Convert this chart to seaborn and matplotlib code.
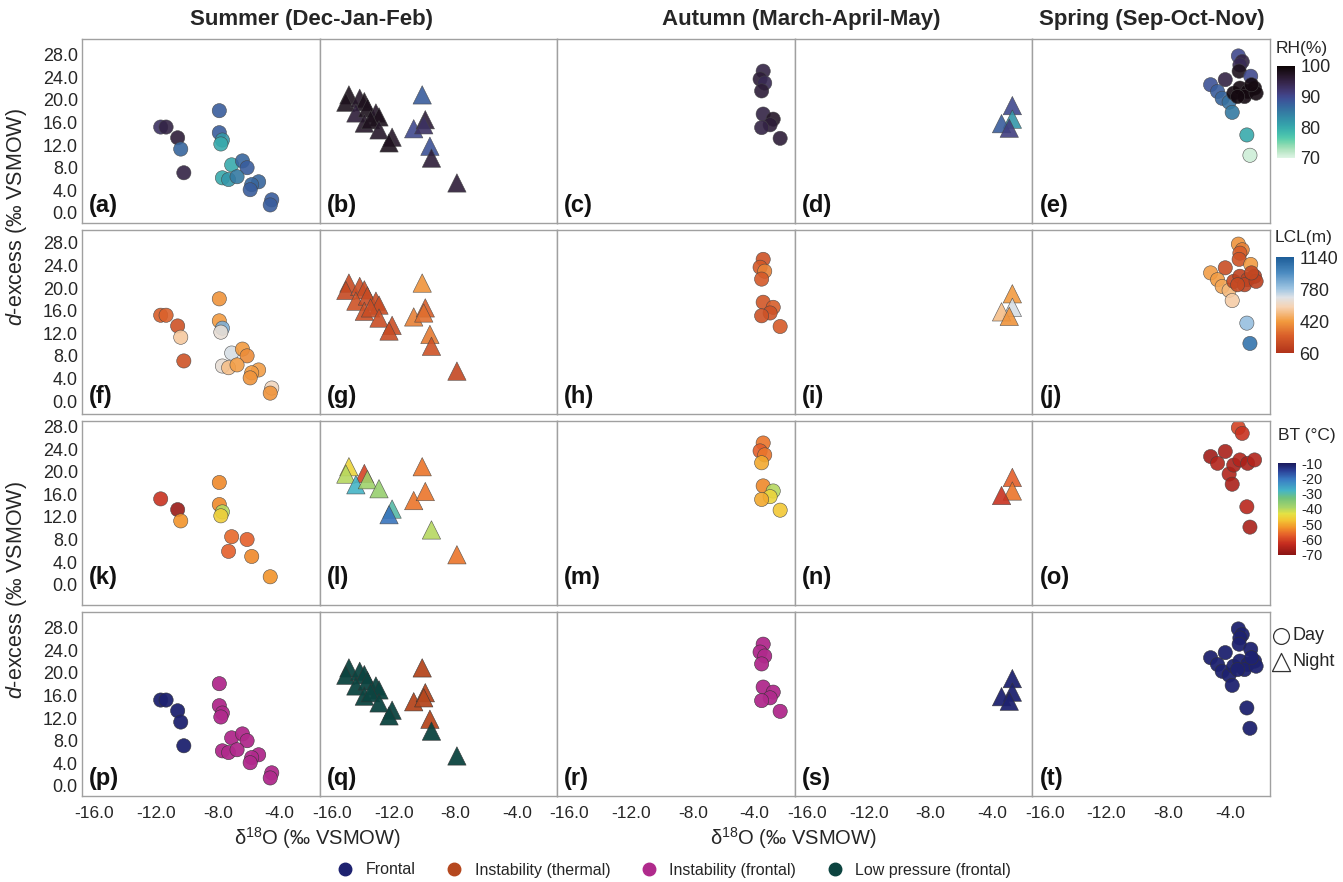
import numpy as np
import pandas as pd
import matplotlib
matplotlib.use("Agg")
import matplotlib.pyplot as plt
import seaborn as sns
from matplotlib.colors import LinearSegmentedColormap, Normalize
from matplotlib.lines import Line2D
import matplotlib.cm as cm

sns.set_theme(style="white")
plt.rcParams['font.family'] = ['Liberation Sans', 'DejaVu Sans']
plt.rcParams['mathtext.fontset'] = 'custom'
plt.rcParams['mathtext.rm'] = 'Liberation Sans'
plt.rcParams['mathtext.it'] = 'Liberation Sans:italic'
plt.rcParams['mathtext.bf'] = 'Liberation Sans:bold'

nan = np.nan
# ---------------- data ----------------
# Summer, day (panels a, f, k, p)
sd_d18o = [-11.7, -11.35, -10.6, -10.4, -10.2, -7.9, -7.9, -7.7, -7.8, -7.1, -6.4, -6.1, -7.7, -7.3, -6.75, -5.35, -5.8, -5.9, -4.5, -4.6]
sd_dex  = [15.2, 15.2, 13.3, 11.3, 7.1, 18.1, 14.2, 12.9, 12.2, 8.5, 9.2, 8.0, 6.2, 5.9, 6.4, 5.5, 5.0, 4.1, 2.3, 1.4]
sd_rh   = [93, 95, 96, 87, 95, 88, 88, 82, 80, 80, 87, 88, 80, 82, 85, 87, 87, 88, 88, 88]
sd_lcl  = [250, 260, 200, 550, 200, 400, 420, 850, 650, 700, 420, 380, 650, 520, 430, 430, 420, 400, 600, 400]
sd_bt   = [-62, nan, -68, -52, nan, -53, -53, -40, -46, -56, nan, -57, nan, -57, nan, nan, -53, nan, nan, -52]
sd_type = ['F', 'F', 'F', 'F', 'F'] + ['IF'] * 15

# Summer, night (panels b, g, l, q)
sn_d18o = [-14.9, -15.1, -14.2, -13.9, -14.45, -13.7, -13.15, -12.95, -13.9, -13.5, -12.95, -12.1, -12.3, -10.15, -10.7, -9.95, -10.05, -9.65, -9.55, -7.9]
sn_dex  = [20.9, 19.6, 20.3, 19.7, 17.7, 18.6, 17.7, 17.0, 15.9, 16.5, 14.7, 13.4, 12.4, 20.9, 14.9, 16.5, 15.6, 11.8, 9.7, 5.3]
sn_rh   = [98, 98, 97, 98, 96, 98, 97, 98, 97, 98, 97, 97, 98, 88, 90, 96, 93, 89, 96, 96]
sn_lcl  = [170, 160, 180, 170, 200, 170, 180, 170, 190, 180, 180, 190, 170, 400, 350, 250, 300, 330, 200, 150]
sn_bt   = [-45, -40, nan, -60, -28, -38, nan, -37, nan, nan, nan, -30, -20, -55, -55, -55, nan, nan, -40, -55]
sn_type = ['LP'] * 13 + ['IT'] * 5 + ['LP', 'LP']

# Autumn, day (panels c, h, m, r)
ad_d18o = [-3.45, -3.65, -3.35, -3.55, -3.45, -2.8, -3.0, -3.55, -2.35]
ad_dex  = [25.1, 23.7, 23.0, 21.6, 17.5, 16.6, 15.6, 15.1, 13.2]
ad_rh   = [95, 96, 94, 96, 95, 97, 96, 95, 96]
ad_lcl  = [200, 230, 350, 230, 220, 250, 200, 200, 240]
ad_bt   = [-55, -57, -55, -50, -53, -40, -45, -50, -47]
ad_type = ['IF'] * 9

# Autumn, night (panels d, i, n, s)
an_d18o = [-2.7, -2.7, -3.4, -2.9]
an_dex  = [19.0, 16.6, 15.8, 15.0]
an_rh   = [90, 82, 88, 91]
an_lcl  = [420, 700, 520, 400]
an_bt   = [-57, -55, -62, nan]
an_type = ['F'] * 4

# Spring, day (panels e, j, o, t)
pd_d18o = [-3.45, -3.2, -3.35, -3.4, -2.65, -4.3, -5.25, -4.8, -4.5, -4.05, -3.85, -2.9, -2.7, -3.75, -3.35, -2.85, -2.4, -3.05, -3.5, -2.3, -2.6]
pd_dex  = [27.8, 26.8, 26.2, 25.1, 24.2, 23.6, 22.7, 21.5, 20.3, 19.6, 17.8, 13.8, 10.2, 21.2, 22.1, 21.5, 22.1, 20.6, 20.6, 21.2, 22.7]
pd_rh   = [90, 95, 94, 98, 90, 95, 89, 88, 87, 86, 85, 80, 71, 99, 99, 99, 99, 99, 99, 99, 99]
pd_lcl  = [400, 350, 250, 200, 420, 180, 430, 420, 450, 500, 560, 800, 1050, 150, 120, 140, 110, 130, 160, 120, 150]
pd_bt   = [-60, -62, nan, nan, nan, -66, -67, -65, nan, -65, -66, -64, -66, -66, -65, -66, -65, nan, nan, nan, nan]
pd_type = ['F'] * 21

type_names = {'F': 'Frontal', 'IT': 'Instability (thermal)', 'IF': 'Instability (frontal)', 'LP': 'Low pressure (frontal)'}
type_colors = {'F': '#1e2270', 'IT': '#b5481f', 'IF': '#b02a8c', 'LP': '#0c4440'}

x_ticks = [-16.0, -12.0, -8.0, -4.0]
y_ticks = [0.0, 4.0, 8.0, 12.0, 16.0, 20.0, 24.0, 28.0]
col_titles = ['Summer (Dec-Jan-Feb)', 'Autumn (March-April-May)', 'Spring (Sep-Oct-Nov)']
letters = list('abcdefghijklmnopqrst')


def frame(d18o, dex, rh, lcl, bt, typ):
    return pd.DataFrame({'d18o': d18o, 'dex': dex, 'RH': rh, 'LCL': lcl, 'BT': bt, 'type': typ})


groups = [
    (frame(sd_d18o, sd_dex, sd_rh, sd_lcl, sd_bt, sd_type), 'o'),
    (frame(sn_d18o, sn_dex, sn_rh, sn_lcl, sn_bt, sn_type), '^'),
    (frame(ad_d18o, ad_dex, ad_rh, ad_lcl, ad_bt, ad_type), 'o'),
    (frame(an_d18o, an_dex, an_rh, an_lcl, an_bt, an_type), '^'),
    (frame(pd_d18o, pd_dex, pd_rh, pd_lcl, pd_bt, pd_type), 'o'),
]

# colormaps
rh_cmap = sns.color_palette('mako_r', as_cmap=True)
lcl_cmap = LinearSegmentedColormap.from_list('lcl', [
    (0.0, '#b0321a'), (0.18, '#d95f2a'), (0.33, '#f29a3e'), (0.48, '#f6d3b3'),
    (0.58, '#dfe2e6'), (0.67, '#9fc5e2'), (0.84, '#4a8ac0'), (1.0, '#1d5d98')])
bt_cmap = LinearSegmentedColormap.from_list('bt', [
    (0.0, '#8a1414'), (0.12, '#c42b1f'), (0.22, '#e5602a'), (0.3, '#f2952a'),
    (0.38, '#f3c634'), (0.45, '#e4e244'), (0.52, '#a6d46a'), (0.62, '#72c27c'),
    (0.7, '#45b5c6'), (0.82, '#3a7dc4'), (0.92, '#2a3f96'), (1.0, '#1a1a5c')])
cmaps = {'RH': rh_cmap, 'LCL': lcl_cmap, 'BT': bt_cmap}
norms = {'RH': Normalize(70, 100), 'LCL': Normalize(60, 1140), 'BT': Normalize(-70, -10)}
row_vars = ['RH', 'LCL', 'BT', 'type']
row_ylims = [(-1.8, 30.8), (-2.3, 30.3), (-3.6, 29.0), (-1.8, 30.8)]
row_letter_y = [0.03, 0.03, 0.085, 0.03]

# ---------------- figure ----------------
W, H = 1343, 882
fig = plt.figure(figsize=(W / 100, H / 100), dpi=100)
fig.patch.set_facecolor('white')

col_left = [82 + i * 237.6 for i in range(5)]
col_w = 237.6
row_top = [39, 230, 421, 612]
row_h = 184


def fx(x):
    return x / W


def fy(y):
    return 1 - y / H


for r, var in enumerate(row_vars):
    for c, (df, marker) in enumerate(groups):
        ax = fig.add_axes([fx(col_left[c]), fy(row_top[r] + row_h), col_w / W, row_h / H])
        sub = df.dropna(subset=[var])
        size = 105 if marker == 'o' else 175
        if var == 'type':
            sns.scatterplot(data=sub, x='d18o', y='dex', hue='type', palette=type_colors,
                            marker=marker, s=size, ax=ax, legend=False,
                            edgecolor='#333333', linewidth=0.4, alpha=0.95)
        else:
            sns.scatterplot(data=sub, x='d18o', y='dex', hue=var, palette=cmaps[var],
                            hue_norm=norms[var], marker=marker, s=size, ax=ax, legend=False,
                            edgecolor='#444444', linewidth=0.4, alpha=0.9)
        ax.set_xlim(-16.8, -1.4)
        ax.set_ylim(*row_ylims[r])
        ax.set_xticks(x_ticks)
        ax.set_yticks(y_ticks)
        ax.set_xlabel('')
        ax.set_ylabel('')
        ax.tick_params(length=0, labelsize=13, pad=3)
        if c == 0:
            ax.set_yticklabels([f'{v:.1f}' for v in y_ticks])
        else:
            ax.set_yticklabels([])
        if r == 3:
            ax.set_xticklabels([f'{v:.1f}' for v in x_ticks], fontsize=12.5)
            ax.tick_params(axis='x', pad=7)
        else:
            ax.set_xticklabels([])
        for sp in ax.spines.values():
            sp.set_color('#a0a0a0')
            sp.set_linewidth(1.0)
        ax.text(0.03, row_letter_y[r], f'({letters[r * 5 + c]})', transform=ax.transAxes,
                fontsize=17, fontweight='bold', ha='left', va='bottom', color='#111111')

# column titles
fig.text(fx(311), fy(20), col_titles[0], fontsize=16, fontweight='bold', ha='center', va='center')
fig.text(fx(801), fy(20), col_titles[1], fontsize=16, fontweight='bold', ha='center', va='center')
fig.text(fx(1152), fy(20), col_titles[2], fontsize=16, fontweight='bold', ha='center', va='center')

# axis labels
xl = r'$\mathregular{\delta^{18}}$O (‰ VSMOW)'
fig.text(fx(317), fy(838), xl, fontsize=14.5, ha='center', va='center')
fig.text(fx(793), fy(838), xl, fontsize=14.5, ha='center', va='center')
yl = r'$\mathit{d}$-excess (‰ VSMOW)'
fig.text(fx(17), fy(217), yl, fontsize=15.5, ha='center', va='center', rotation=90)
fig.text(fx(17), fy(590), yl, fontsize=15.5, ha='center', va='center', rotation=90)


# colorbars
def add_cbar(var, x0, y0, x1, y1, ticks, label, lx, ly, tsize):
    cax = fig.add_axes([fx(x0), fy(y1), (x1 - x0) / W, (y1 - y0) / H])
    cb = fig.colorbar(cm.ScalarMappable(norm=norms[var], cmap=cmaps[var]), cax=cax)
    cb.outline.set_visible(False)
    cb.set_ticks(ticks)
    cb.set_ticklabels([str(t) for t in ticks])
    cax.tick_params(length=0, labelsize=tsize, pad=4)
    fig.text(fx(lx), fy(ly), label, fontsize=12.5, ha='center', va='center')


add_cbar('RH', 1277, 66, 1295, 158, [70, 80, 90, 100], 'RH(%)', 1302, 49, 13)
add_cbar('LCL', 1276, 257, 1294, 353, [60, 420, 780, 1140], 'LCL(m)', 1304, 238, 13)
add_cbar('BT', 1278, 463, 1296, 555, [-70, -60, -50, -40, -30, -20, -10], 'BT (°C)', 1307, 436, 10.5)

# Day / Night key
day_ax = fig.add_axes([fx(1272), fy(680), 70 / W, 60 / H])
day_ax.set_axis_off()
day_ax.set_xlim(0, 70)
day_ax.set_ylim(680, 620)
day_ax.scatter([9], [636], marker='o', s=130, facecolor='white', edgecolor='#333333', linewidth=0.9)
day_ax.scatter([9], [662], marker='^', s=170, facecolor='white', edgecolor='#333333', linewidth=0.9)
day_ax.text(21, 636, 'Day', fontsize=13, va='center', ha='left')
day_ax.text(21, 662, 'Night', fontsize=13, va='center', ha='left')

# bottom legend
handles = [Line2D([0], [0], marker='o', linestyle='', markersize=9,
                  markerfacecolor=type_colors[k], markeredgecolor=type_colors[k], label=type_names[k])
           for k in ['F', 'IT', 'IF', 'LP']]
leg = fig.legend(handles=handles, loc='center', bbox_to_anchor=(fx(670), fy(870)), ncol=4,
                 frameon=False, handletextpad=0.3, columnspacing=1.4,
                 prop={'size': 11.5})

fig.savefig('out.png', dpi=100, facecolor='white')
